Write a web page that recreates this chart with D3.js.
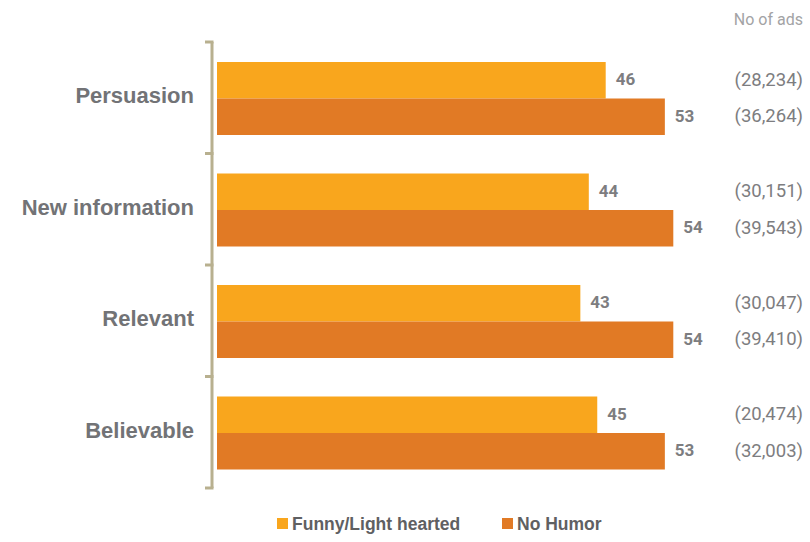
<!DOCTYPE html>
<html>
<head>
<meta charset="utf-8">
<script src="https://cdn.jsdelivr.net/npm/d3@7/dist/d3.min.js"></script>
<style>
  html, body { margin: 0; padding: 0; background: #ffffff; }
  svg { display: block; }
</style>
</head>
<body>
<svg id="chart" width="810" height="542"></svg>
<script>
const categories = ["Persuasion", "New information", "Relevant", "Believable"];
const seriesNames = ["Funny/Light hearted", "No Humor"];
const funnyValues = [46, 44, 43, 45];
const noHumorValues = [53, 54, 54, 53];
const funnyAds = ["(28,234)", "(30,151)", "(30,047)", "(20,474)"];
const noHumorAds = ["(36,264)", "(39,543)", "(39,410)", "(32,003)"];
const adsHeader = "No of ads";
const colors = ["#F9A61D", "#E17A25"];

const svg = d3.select("#chart");

const x = d3.scaleLinear().domain([0, 60]).range([217, 724]);
const y = d3.scaleBand().domain(categories).range([42, 488]).padding(0);
const inner = d3.scaleBand().domain(seriesNames)
  .range([20, y.bandwidth() - 18.5]).padding(0);

const rows = categories.map((c, i) => ({
  cat: c,
  vals: [funnyValues[i], noHumorValues[i]],
  ads: [funnyAds[i], noHumorAds[i]]
}));

// bars
const g = svg.append("g");
rows.forEach(r => {
  const gg = g.append("g").attr("transform", `translate(0,${y(r.cat)})`);
  seriesNames.forEach((s, j) => {
    gg.append("rect")
      .attr("x", x(0))
      .attr("y", inner(s))
      .attr("width", x(r.vals[j]) - x(0))
      .attr("height", inner.bandwidth())
      .attr("fill", colors[j]);
    gg.append("text")
      .attr("x", x(r.vals[j]) + 10)
      .attr("y", inner(s) + inner.bandwidth() / 2 - 1)
      .attr("dy", "0.35em")
      .attr("font-family", "Roboto, 'Liberation Sans', sans-serif")
      .attr("font-weight", "bold")
      .attr("font-size", 17)
      .attr("fill", "#7d7d80")
      .text(r.vals[j]);
    gg.append("text")
      .attr("x", 803)
      .attr("y", inner(s) + inner.bandwidth() / 2 - 1)
      .attr("dy", "0.35em")
      .attr("text-anchor", "end")
      .attr("font-family", "Roboto, 'Liberation Sans', sans-serif")
      .attr("font-size", 18.5)
      .attr("fill", "#7d7d80")
      .text(r.ads[j]);
  });
  // category label
  svg.append("text")
    .attr("x", 194)
    .attr("y", y(r.cat) + y.bandwidth() / 2 - 2)
    .attr("dy", "0.35em")
    .attr("text-anchor", "end")
    .attr("font-family", "'Liberation Sans', Arial, sans-serif")
    .attr("font-weight", "bold")
    .attr("font-size", 22)
    .attr("fill", "#727376")
    .text(r.cat);
});

// header
svg.append("text")
  .attr("x", 803).attr("y", 25)
  .attr("text-anchor", "end")
  .attr("font-family", "Roboto, 'Liberation Sans', sans-serif")
  .attr("font-size", 16)
  .attr("fill", "#a3a3a5")
  .text(adsHeader);

// bracket axis
const axisX = 212;
const boundaries = categories.map(c => y(c)).concat([y.range()[1]]);
svg.append("line")
  .attr("x1", axisX).attr("x2", axisX)
  .attr("y1", y.range()[0]).attr("y2", y.range()[1])
  .attr("stroke", "#b8b08f").attr("stroke-width", 3);
boundaries.forEach(b => {
  svg.append("line")
    .attr("x1", axisX - 7).attr("x2", axisX + 1.5)
    .attr("y1", b).attr("y2", b)
    .attr("stroke", "#b8b08f").attr("stroke-width", 3);
});

// legend
const legendItems = [
  { name: seriesNames[0], color: colors[0], x: 277 },
  { name: seriesNames[1], color: colors[1], x: 502 }
];
legendItems.forEach(d => {
  svg.append("rect")
    .attr("x", d.x).attr("y", 518)
    .attr("width", 11).attr("height", 11)
    .attr("fill", d.color);
  svg.append("text")
    .attr("x", d.x + 15).attr("y", 524)
    .attr("dy", "0.35em")
    .attr("font-family", "'Liberation Sans', Arial, sans-serif")
    .attr("font-weight", "bold")
    .attr("font-size", 17.5)
    .attr("fill", "#5f6062")
    .text(d.name);
});
</script>
</body>
</html>
